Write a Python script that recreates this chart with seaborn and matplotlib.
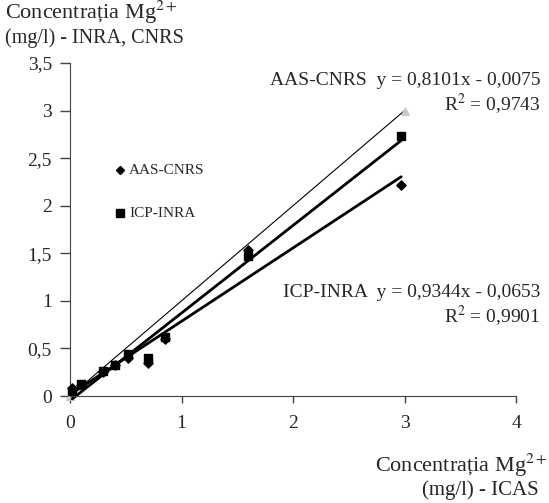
import numpy as np
import pandas as pd
import seaborn as sns
import matplotlib.pyplot as plt

# ICAS reference values (x) and the two labs (y)
icas = [0.02, 0.10, 0.30, 0.40, 0.52, 0.70, 0.85, 1.60, 2.97]
aas_cnrs = [0.08, 0.12, 0.25, 0.33, 0.40, 0.35, 0.60, 1.53, 2.22]
icp_inra = [0.05, 0.13, 0.26, 0.33, 0.44, 0.40, 0.62, 1.47, 2.73]

# 1:1 line (ICAS vs ICAS)
ref_x = [0, 3]
ref_y = [0, 3]

y_ticks = [0, 0.5, 1, 1.5, 2, 2.5, 3, 3.5]
y_tick_labels = ['0', '0,5', '1', '1,5', '2', '2,5', '3', '3,5']
x_ticks = [0, 1, 2, 3, 4]
x_tick_labels = ['0', '1', '2', '3', '4']

df = pd.DataFrame({'icas': icas, 'aas': aas_cnrs, 'icp': icp_inra})
ref = pd.DataFrame({'x': ref_x, 'y': ref_y})

sns.set_style('ticks')
plt.rcParams['font.family'] = ['Liberation Serif', 'DejaVu Serif']
plt.rcParams['mathtext.fontset'] = 'stix'

fig = plt.figure(figsize=(5.49, 5.03), dpi=100)
ax = fig.add_axes([0.1275, 0.2127, 0.8125, 0.6621])

# thin 1:1 line with grey triangles
sns.lineplot(data=ref, x='x', y='y', color='black', lw=0.8, marker='^',
             markersize=6, markerfacecolor='#c8c8c8', markeredgecolor='#c8c8c8',
             ax=ax, zorder=2)

sns.regplot(data=df, x='icas', y='aas', ci=None, marker='D', color='black',
            scatter_kws={'s': 22, 'zorder': 3, 'alpha': 1},
            line_kws={'lw': 2}, ax=ax)
sns.regplot(data=df, x='icas', y='icp', ci=None, marker='s', color='black',
            scatter_kws={'s': 34, 'zorder': 3, 'alpha': 1},
            line_kws={'lw': 2}, ax=ax)

ax.set_xlim(0, 4)
ax.set_ylim(0, 3.5)
ax.set_xticks(x_ticks)
ax.set_xticklabels(x_tick_labels)
ax.set_yticks(y_ticks)
ax.set_yticklabels(y_tick_labels)
ax.set_xlabel('')
ax.set_ylabel('')
sns.despine(ax=ax)
ax.spines['left'].set_color('#444444')
ax.spines['bottom'].set_color('#444444')
ax.tick_params(axis='y', length=7, width=1, color='#444444', labelsize=14, pad=6)
ax.tick_params(axis='x', length=5, width=1, color='#444444', labelsize=14, pad=9)
for c in ax.collections + ax.lines:
    c.set_clip_on(False)

# legend (hand placed like the original)
ax.plot([0.45], [2.37], marker='D', color='black', markersize=4.5, ls='none',
        clip_on=False)
ax.text(0.53, 2.37, 'AAS-CNRS', fontsize=11, va='center', ha='left')
ax.plot([0.45], [1.92], marker='s', color='black', markersize=6, ls='none',
        clip_on=False)
ax.text(0.53, 1.92, 'ICP-INRA', fontsize=11, va='center', ha='left')

# trendline equations
fig.text(0.985, 0.84, 'AAS-CNRS  y = 0,8101x - 0,0075', fontsize=14,
         ha='right', va='center')
fig.text(0.985, 0.795, 'R$^{2}$ = 0,9743', fontsize=14, ha='right', va='center')
fig.text(0.985, 0.418, 'ICP-INRA  y = 0,9344x - 0,0653', fontsize=14,
         ha='right', va='center')
fig.text(0.985, 0.373, 'R$^{2}$ = 0,9901', fontsize=14, ha='right', va='center')

# axis titles
fig.text(0.01, 0.975, 'Concentrația Mg$^{2+}$', fontsize=16, ha='left', va='center')
fig.text(0.01, 0.925, '(mg/l) - INRA, CNRS', fontsize=14.5, ha='left', va='center')
fig.text(0.997, 0.075, 'Concentrația Mg$^{2+}$', fontsize=16, ha='right', va='center')
fig.text(0.982, 0.026, '(mg/l) - ICAS', fontsize=15, ha='right', va='center')

fig.savefig('out.png', dpi=100)
